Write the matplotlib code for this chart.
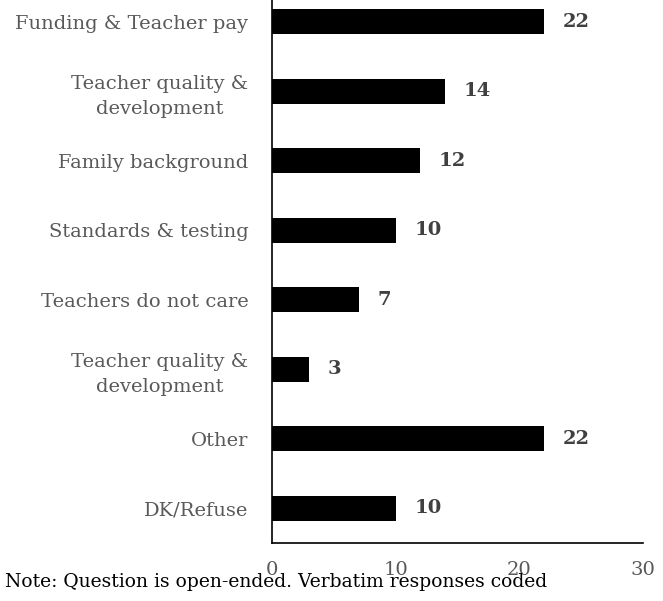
import matplotlib.pyplot as plt
import numpy as np

categories = [
    "Funding & Teacher pay",
    "Teacher quality &\ndevelopment",
    "Family background",
    "Standards & testing",
    "Teachers do not care",
    "Teacher quality &\ndevelopment",
    "Other",
    "DK/Refuse",
]
counts = [22, 14, 12, 10, 7, 3, 22, 10]
xticks = [0, 10, 20, 30]

plt.rcParams['font.family'] = ['DejaVu Serif']

fig = plt.figure(figsize=(6.63, 6.01), dpi=100)
# axes run off the top edge of the canvas, as in the exported chart
ax = fig.add_axes([272 / 663, 58 / 601, 371 / 663, 556 / 601])

y = np.arange(len(categories))
ax.barh(y, counts, height=0.36, color='black')
ax.set_ylim(len(categories) - 0.5, -0.5)
ax.set_xlim(0, 30)

for yi, v in zip(y, counts):
    ax.text(v + 1.5, yi, str(v), va='center', ha='left',
            fontsize=14, fontweight='bold', color='#404040')

ax.set_yticks(y)
ax.set_yticklabels(categories, fontsize=14, color='#595959',
                   ha='right', multialignment='center', linespacing=1.45)
ax.tick_params(axis='y', length=0, pad=17)
ax.set_xticks(xticks)
ax.set_xticklabels([str(t) for t in xticks], fontsize=14, color='#595959')
ax.tick_params(axis='x', length=0, pad=13)

for side in ['top', 'right']:
    ax.spines[side].set_visible(False)
ax.spines['left'].set_linewidth(1.2)
ax.spines['bottom'].set_linewidth(1.2)

fig.text(5 / 663, 1 - 582 / 601, "Note: Question is open-ended. Verbatim responses coded",
         fontsize=13.5, va='center', ha='left', color='black')

fig.savefig('out.png', dpi=100)
